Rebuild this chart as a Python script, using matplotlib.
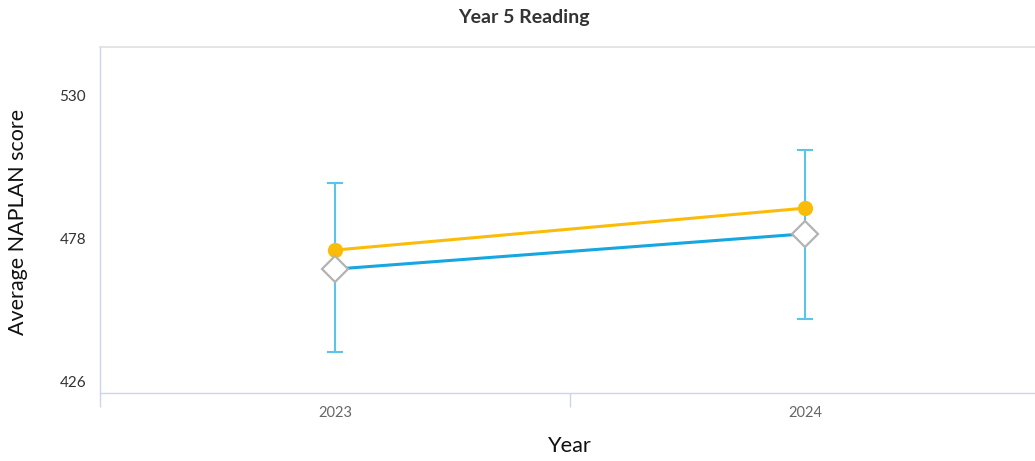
import numpy as np
import matplotlib.pyplot as plt

# ---------------------------------------------------------------------------
# data
# ---------------------------------------------------------------------------
years = ["2023", "2024"]
school = [473.8, 489.0]          # yellow circles
similar = [466.9, 479.7]         # blue line, white diamonds
err_low = [436.9, 448.9]         # error bar bottoms
err_high = [498.1, 510.1]        # error bar tops
y_ticks = [426, 478, 530]

plt.rcParams["font.family"] = ["Lato", "DejaVu Sans"]

fig = plt.figure(figsize=(10.35, 4.61), dpi=100)
# plot area runs a little past the right edge of the picture, as in the original
ax = fig.add_axes([100 / 1035, 68 / 461, 940 / 1035, 346 / 461])

x = np.arange(len(years))
sim = np.array(similar)
yerr = np.vstack([sim - np.array(err_low), np.array(err_high) - sim])

ax.errorbar(x, sim, yerr=yerr, fmt="none", ecolor="#5bc4ea", elinewidth=1.5,
            capsize=6, capthick=1.5, zorder=2)
ax.plot(x, school, color="#fbbc09", lw=2.2, marker="o", ms=11,
        markeredgewidth=0, zorder=3)
ax.plot(x, similar, color="#16a6e0", lw=2.2, zorder=3)
ax.plot(x, similar, ls="none", marker="D", ms=13.5, markerfacecolor="white",
        markeredgecolor="#b3b3b3", markeredgewidth=1.6, zorder=4)

ax.set_xlim(-0.5, len(years) - 0.5)
ax.set_ylim(422.0, 547.4)

ax.set_yticks(y_ticks)
ax.set_yticklabels([str(v) for v in y_ticks])
ax.tick_params(axis="y", length=0, pad=10, labelsize=11, labelcolor="#333333")

ax.set_xticks(x)
ax.set_xticklabels(years)
ax.tick_params(axis="x", which="major", length=0, pad=9, labelsize=10.5,
               labelcolor="#666666")
ax.set_xticks(np.arange(len(years) + 1) - 0.5, minor=True)
ax.tick_params(axis="x", which="minor", length=10, width=1, color="#ccd6eb")

ax.spines["right"].set_visible(False)
ax.spines["top"].set_color("#e2e2e2")
ax.spines["top"].set_linewidth(1.3)
ax.spines["left"].set_color("#ccd6eb")
ax.spines["left"].set_linewidth(1)
ax.spines["bottom"].set_color("#ccd6eb")
ax.spines["bottom"].set_linewidth(1)

ax.set_xlabel("Year", fontsize=15.7, color="#111111", labelpad=12)
fig.text(18 / 1035, 1 - 222 / 461, "Average NAPLAN score",
         rotation=90, fontsize=15.5, color="#111111", ha="center", va="center")
fig.text(524 / 1035, 1 - 17 / 461, "Year 5 Reading", fontsize=14,
         fontweight="bold", color="#333333", ha="center", va="center")

plt.savefig("out.png", dpi=100)
